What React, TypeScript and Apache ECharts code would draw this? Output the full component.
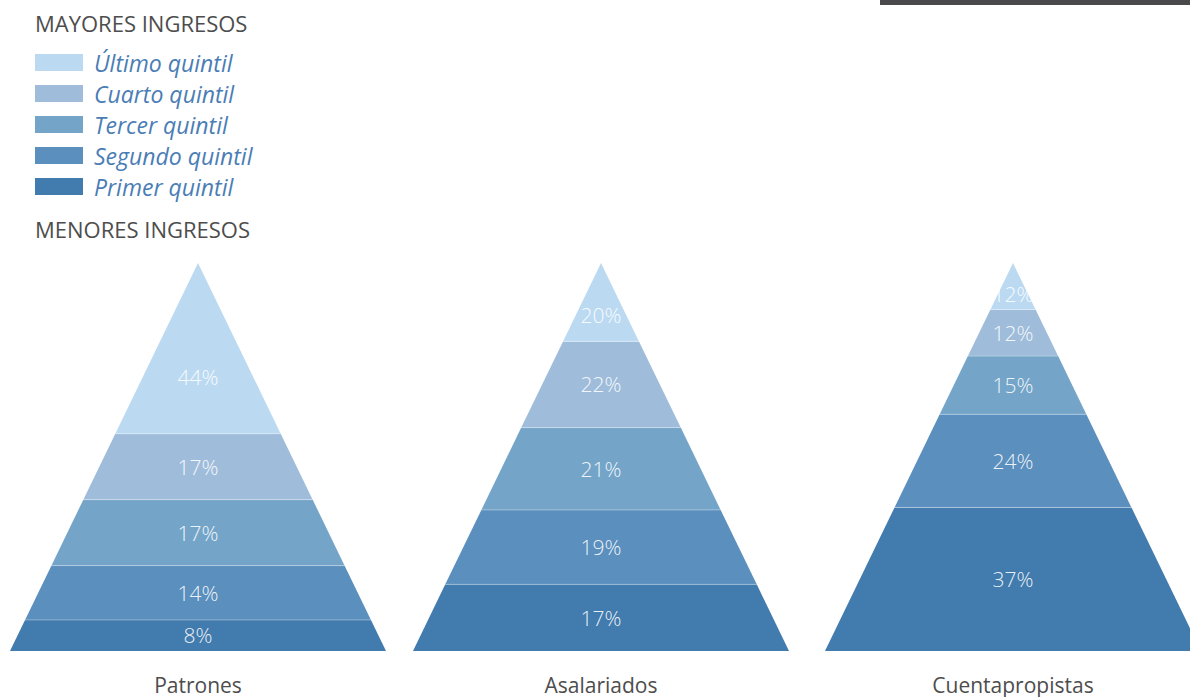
import React, { useEffect, useRef } from "react";
import * as echarts from "echarts";

const categories = ["Patrones", "Asalariados", "Cuentapropistas"];
// bottom (Primer) to top (Último)
const quintiles = ["Primer quintil", "Segundo quintil", "Tercer quintil", "Cuarto quintil", "Último quintil"];
const patrones = [8, 14, 17, 17, 44];
const asalariados = [17, 19, 21, 22, 20];
const cuentapropistas = [37, 24, 15, 12, 12];
const colors = ["#427BAE", "#5B8FBE", "#74A5C9", "#9FBDDB", "#BBDAF2"];
const legendOrder = ["Último quintil", "Cuarto quintil", "Tercer quintil", "Segundo quintil", "Primer quintil"];

const FONT = "'Open Sans', Lato, sans-serif";

export default function App() {
  const ref = useRef<HTMLDivElement>(null);
  useEffect(() => {
    if (!ref.current) return;
    const chart = echarts.init(ref.current, null, { renderer: "svg" });
    const sets = [patrones, asalariados, cuentapropistas];
    const lefts = [10, 413, 825];
    const grids = lefts.map((l) => ({
      left: l,
      top: 263,
      width: 376,
      height: 388,
      containLabel: false,
      outerBoundsMode: "none",
    }));
    const xAxes = categories.map((c, i) => ({
      type: "value",
      gridIndex: i,
      min: -1,
      max: 1,
      show: true,
      axisLine: { show: false },
      axisTick: { show: false },
      axisLabel: { show: false },
      splitLine: { show: false },
      name: c,
      nameLocation: "middle",
      nameGap: 23,
      nameTextStyle: { fontSize: 21, color: "#4D4D4D", fontFamily: FONT },
    }));
    const yAxes = sets.map((vals, i) => ({
      type: "value",
      gridIndex: i,
      min: 0,
      max: vals.reduce((a, b) => a + b, 0),
      show: false,
    }));
    const series: any[] = [];
    sets.forEach((vals, p) => {
      const total = vals.reduce((a, b) => a + b, 0);
      let cum = 0;
      vals.forEach((v, q) => {
        const start = cum;
        const end = cum + v;
        cum = end;
        const isTop = q === vals.length - 1;
        series.push({
          type: "custom",
          name: quintiles[q],
          xAxisIndex: p,
          yAxisIndex: p,
          color: colors[q],
          clip: false,
          data: [[start, end, v]],
          renderItem: (params: any, api: any) => {
            const s = api.value(0);
            const e = api.value(1);
            const val = api.value(2);
            const ws = 1 - s / total;
            const we = 1 - e / total;
            const p1 = api.coord([-ws, s]);
            const p2 = api.coord([ws, s]);
            const p3 = api.coord([we, e]);
            const p4 = api.coord([-we, e]);
            const labelY = isTop ? s + (e - s) / 3 : (s + e) / 2;
            const c = api.coord([0, labelY]);
            const children: any[] = [
              {
                type: "polygon",
                shape: { points: [p1, p2, p3, p4] },
                style: { fill: colors[q] },
              },
            ];
            if (q > 0) {
              children.push({
                type: "line",
                shape: { x1: p1[0], y1: p1[1], x2: p2[0], y2: p2[1] },
                style: { stroke: "rgba(255,255,255,0.35)", lineWidth: 1 },
              });
            }
            children.push({
              type: "text",
              x: c[0],
              y: c[1],
              style: {
                text: val + "%",
                fill: "rgba(255,255,255,0.9)",
                fontSize: 21,
                fontWeight: 300,
                fontFamily: FONT,
                align: "center",
                verticalAlign: "middle",
              },
            });
            return { type: "group", children };
          },
        });
      });
    });

    chart.setOption({
      animation: false,
      backgroundColor: "#FFFFFF",
      grid: grids,
      xAxis: xAxes,
      yAxis: yAxes,
      legend: {
        data: legendOrder,
        orient: "vertical",
        left: 35,
        top: 51,
        padding: 0,
        itemWidth: 48,
        itemHeight: 17,
        itemGap: 8,
        icon: "rect",
        selectedMode: false,
        textStyle: {
          fontSize: 23,
          fontStyle: "italic",
          color: "#4A7DB5",
          fontFamily: FONT,
          padding: [0, 0, 0, 6],
        },
      },
      graphic: [
        {
          type: "rect",
          left: 880,
          top: 0,
          shape: { width: 310, height: 5 },
          style: { fill: "#4A4A4C" },
        },
        {
          type: "text",
          left: 35,
          top: 12,
          style: { text: "MAYORES INGRESOS", fontSize: 22, fill: "#4D4D4D", fontFamily: FONT },
        },
        {
          type: "text",
          left: 35,
          top: 218,
          style: { text: "MENORES INGRESOS", fontSize: 22, fill: "#4D4D4D", fontFamily: FONT },
        },
      ],
      series,
    });
    return () => chart.dispose();
  }, []);
  return (
    <div
      ref={ref}
      style={{ position: "fixed", left: 0, top: 0, width: 1190, height: 697 }}
    />
  );
}
